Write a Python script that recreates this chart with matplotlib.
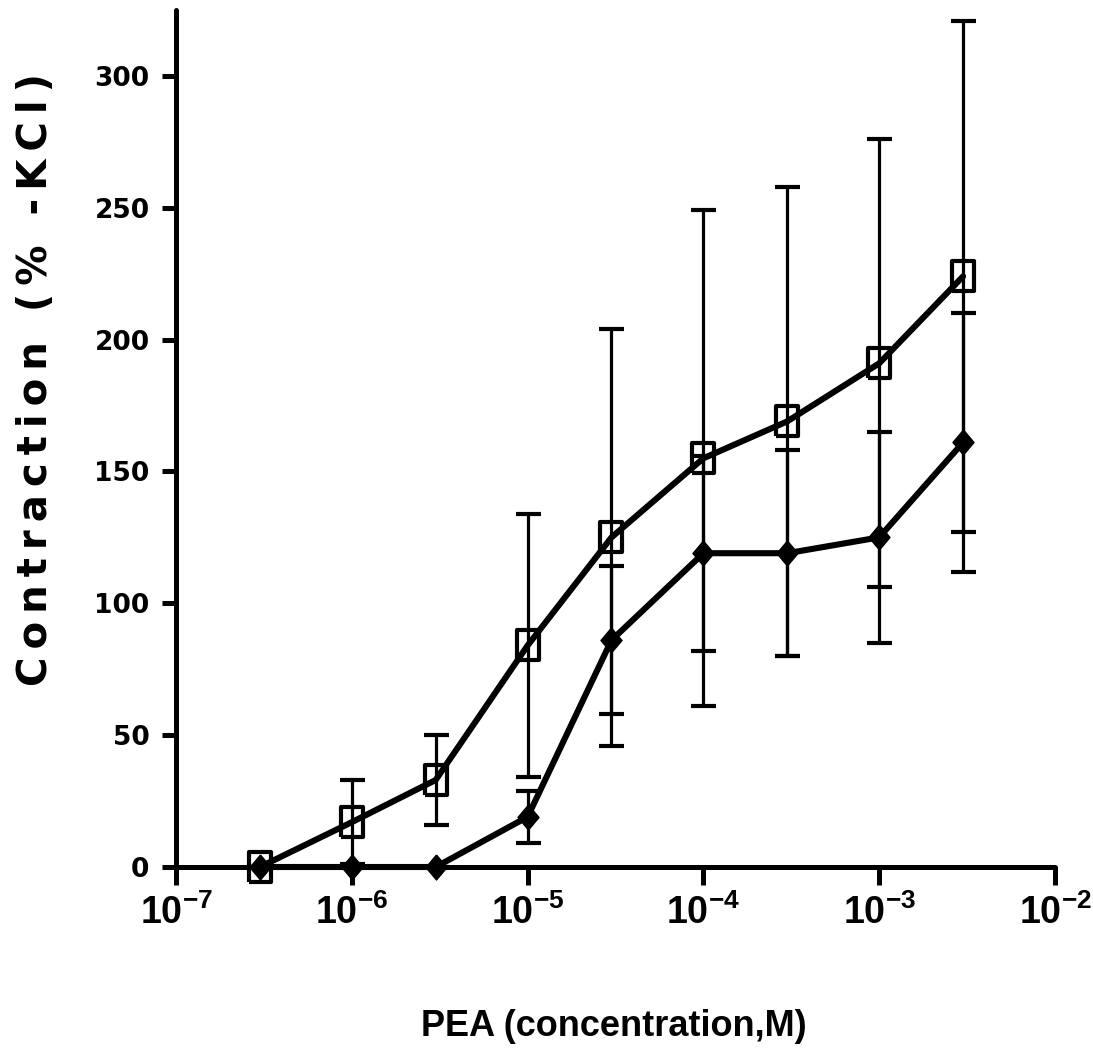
import numpy as np
import matplotlib
matplotlib.use('Agg')
import matplotlib.pyplot as plt
from matplotlib.ticker import FixedLocator, NullLocator

# концентрации PEA (M)
conc = [3e-7, 1e-6, 3e-6, 1e-5, 3e-5, 1e-4, 3e-4, 1e-3, 3e-3]

# открытые квадраты
sq_mean = [0, 17, 33, 84, 125, 155, 169, 191, 224]
sq_err = [0, 16, 17, 50, 79, 94, 89, 85, 97]

# закрашенные ромбы
di_mean = [0, 0, 0, 19, 86, 119, 119, 125, 161]
di_err = [0, 0, 0, 10, 28, 37, 39, 40, 49]

x_ticks = [1e-7, 1e-6, 1e-5, 1e-4, 1e-3, 1e-2]
x_labels = ['$10^{-7}$', '$10^{-6}$', '$10^{-5}$', '$10^{-4}$', '$10^{-3}$', '$10^{-2}$']
y_ticks = [0, 50, 100, 150, 200, 250, 300]

plt.rcParams['font.family'] = ['DejaVu Sans']
plt.rcParams['mathtext.fontset'] = 'custom'
plt.rcParams['mathtext.rm'] = 'Liberation Sans:bold'
plt.rcParams['mathtext.it'] = 'Liberation Sans:bold'
plt.rcParams['mathtext.bf'] = 'Liberation Sans:bold'
plt.rcParams['mathtext.default'] = 'rm'

fig = plt.figure(figsize=(10.93, 10.55), dpi=100)
ax = fig.add_axes([176 / 1093, 1 - 867 / 1055, 879 / 1093, 857 / 1055])

rect = [(-0.38, -0.5), (0.38, -0.5), (0.38, 0.5), (-0.38, 0.5), (-0.38, -0.5)]
diam = [(0, 0.5), (0.42, 0), (0, -0.5), (-0.42, 0), (0, 0.5)]

ax.errorbar(conc, di_mean, yerr=di_err, color='black', lw=4.4, marker=diam,
            markersize=18, markerfacecolor='black', ecolor='black', elinewidth=2.3,
            capsize=9, capthick=3, solid_capstyle='round', clip_on=False, zorder=3)
ax.errorbar(conc, sq_mean, yerr=sq_err, color='black', lw=4.4, marker=rect,
            markersize=21, markerfacecolor='none', markeredgewidth=3.0,
            ecolor='black', elinewidth=2.3, capsize=9, capthick=3,
            solid_capstyle='round', clip_on=False, zorder=4)

ax.set_xscale('log')
ax.set_xlim(1e-7, 1e-2)
ax.set_ylim(0, 325)
ax.xaxis.set_major_locator(FixedLocator(x_ticks))
ax.xaxis.set_minor_locator(NullLocator())
ax.set_xticklabels(x_labels)
ax.set_yticks(y_ticks)

for s in ['top', 'right']:
    ax.spines[s].set_visible(False)
for s in ['left', 'bottom']:
    ax.spines[s].set_linewidth(3.6)
    ax.spines[s].set_capstyle('round')

ax.tick_params(axis='y', length=10, width=3.6, pad=9, labelsize=19)
ax.tick_params(axis='x', length=13, width=3.6, pad=7, labelsize=27)
for lab in ax.get_yticklabels():
    lab.set_fontweight('bold')

ylab = '\u2009'.join('Contraction (% -KCl)')
fig.text(36 / 1093, 1 - 380 / 1055, ylab, rotation=90,
         ha='center', va='center', fontsize=29, fontweight='bold')
fig.text(614 / 1093, 1 - 1026 / 1055, 'PEA (concentration,M)', ha='center',
         va='center', fontsize=26, fontweight='bold',
         family=['Liberation Sans', 'DejaVu Sans'])

plt.savefig('out.png', dpi=100)
plt.close()
